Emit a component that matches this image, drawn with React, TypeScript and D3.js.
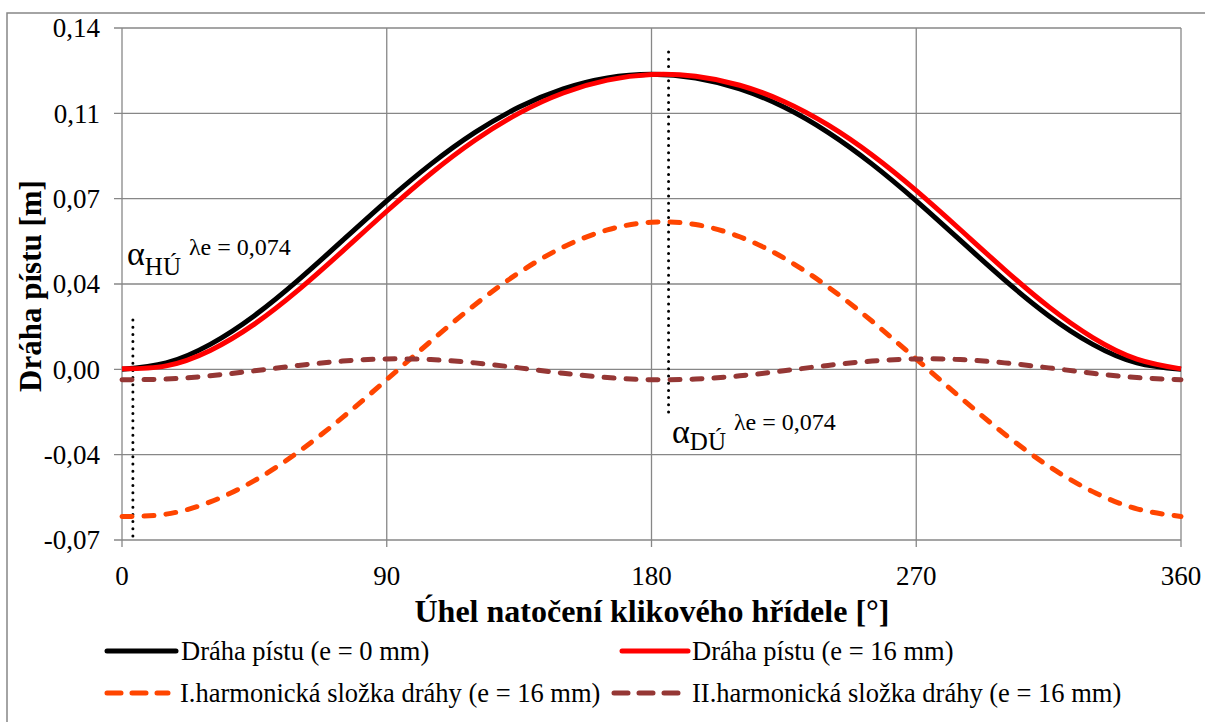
import React from "react";
import * as d3 from "d3";

// angles (deg) sampled every 15°
const angles = d3.range(0, 361, 15);

// Dráha pístu (e = 0 mm)
const pathE0 = [
  0.0, 0.00264, 0.01026, 0.02202, 0.0367, 0.05286, 0.0691, 0.08418, 0.0972,
  0.10758, 0.11504, 0.11952, 0.121, 0.11952, 0.11504, 0.10758, 0.0972, 0.08418,
  0.0691, 0.05286, 0.0367, 0.02202, 0.01026, 0.00264, 0.0,
];

// Dráha pístu (e = 16 mm)
const pathE16 = [
  0.0002, 0.00143, 0.00777, 0.01854, 0.03258, 0.04849, 0.06484, 0.08033,
  0.09397, 0.10509, 0.11335, 0.11861, 0.12089, 0.1202, 0.11653, 0.10986,
  0.10024, 0.08789, 0.07328, 0.05725, 0.04093, 0.02571, 0.01303, 0.00421, 0.0002,
];

// I. harmonická složka (e = 16 mm)
const harm1 = [
  -0.06035, -0.05939, -0.05438, -0.04566, -0.03383, -0.0197, -0.00422, 0.01154,
  0.02652, 0.03969, 0.05016, 0.0572, 0.06035, 0.05939, 0.05438, 0.04566,
  0.03383, 0.0197, 0.00422, -0.01154, -0.02652, -0.03969, -0.05016, -0.0572,
  -0.06035,
];

// II. harmonická složka (e = 16 mm)
const harm2 = [
  -0.00426, -0.00399, -0.00265, -0.0006, 0.00161, 0.00339, 0.00426, 0.00399,
  0.00265, 0.0006, -0.00161, -0.00339, -0.00426, -0.00399, -0.00265, -0.0006,
  0.00161, 0.00339, 0.00426, 0.00399, 0.00265, 0.0006, -0.00161, -0.00339,
  -0.00426,
];

const xTicks = [0, 90, 180, 270, 360];
const yTicks = [-0.07, -0.035, 0, 0.035, 0.07, 0.105, 0.14];
const yTickLabels = ["-0,07", "-0,04", "0,00", "0,04", "0,07", "0,11", "0,14"];

const seriesNames = [
  "Dráha pístu (e = 0 mm)",
  "Dráha pístu (e = 16 mm)",
  "I.harmonická složka dráhy (e = 16 mm)",
  "II.harmonická složka dráhy (e = 16 mm)",
];

// marked angles α_HÚ and α_DÚ
const markAngles = [3.7, 185.8];

const FONT = '"Liberation Serif", "Times New Roman", serif';
const GRID = "#878787";

export default function App() {
  const W = 1205;
  const H = 722;
  const x = d3.scaleLinear().domain([0, 360]).range([122, 1181]);
  const y = d3.scaleLinear().domain([-0.07, 0.14]).range([540, 28]);

  const line = d3
    .line<number>()
    .x((_, i) => x(angles[i]))
    .y((d) => y(d))
    .curve(d3.curveNatural);

  const series = [
    { data: pathE0, color: "#000000", dash: undefined },
    { data: pathE16, color: "#ff0000", dash: undefined },
    { data: harm1, color: "#ff4500", dash: "10 12" },
    { data: harm2, color: "#953735", dash: "10 12" },
  ];

  const legend = [
    { x1: 107, x2: 176, tx: 181, y: 651 },
    { x1: 622, x2: 688, tx: 692, y: 651 },
    { x1: 107, x2: 168, tx: 180, y: 693 },
    { x1: 614, x2: 682, tx: 692, y: 693 },
  ];

  const txt = { fontFamily: FONT };

  return (
    <svg
      width={W}
      height={H}
      style={{ position: "absolute", left: 0, top: 0, background: "#fff", fontFamily: FONT }}
    >
      {/* chart border */}
      <path d={`M7,${H} V13 H${W}`} fill="none" stroke={GRID} strokeWidth={1.5} />

      {/* grid */}
      {yTicks.map((t) => (
        <line key={"gy" + t} x1={114} x2={x(360)} y1={y(t)} y2={y(t)} stroke={GRID} strokeWidth={1.3} />
      ))}
      {xTicks.map((t) => (
        <line key={"gx" + t} x1={x(t)} x2={x(t)} y1={y(0.14)} y2={547} stroke={GRID} strokeWidth={1.3} />
      ))}

      {/* y tick labels */}
      {yTicks.map((t, i) => (
        <text key={"ly" + t} x={100} y={y(t)} dy="0.34em" textAnchor="end" fontSize={27} style={txt}>
          {yTickLabels[i]}
        </text>
      ))}
      {/* x tick labels */}
      {xTicks.map((t) => (
        <text key={"lx" + t} x={x(t)} y={585} textAnchor="middle" fontSize={27} style={txt}>
          {t}
        </text>
      ))}

      {/* axis titles */}
      <text x={652} y={622} textAnchor="middle" fontSize={32} fontWeight="bold" style={txt}>
        Úhel natočení klikového hřídele [°]
      </text>
      <text
        transform={`translate(41,286) rotate(-90)`}
        textAnchor="middle"
        fontSize={31}
        fontWeight="bold"
        style={txt}
      >
        Dráha pístu [m]
      </text>

      {/* dotted markers */}
      <line x1={x(markAngles[0])} x2={x(markAngles[0])} y1={320} y2={538} stroke="#000" strokeWidth={3} strokeDasharray="0 7.2" strokeLinecap="round" />
      <line x1={x(markAngles[1])} x2={x(markAngles[1])} y1={52} y2={412} stroke="#000" strokeWidth={3} strokeDasharray="0 7.2" strokeLinecap="round" />

      {/* series */}
      {series.map((s, i) => (
        <path
          key={"s" + i}
          d={line(s.data) || ""}
          fill="none"
          stroke={s.color}
          strokeWidth={5}
          strokeDasharray={s.dash}
          strokeLinecap={s.dash ? "round" : "butt"}
          strokeLinejoin="round"
        />
      ))}

      {/* annotations */}
      <text x={127} y={265} fontSize={34} style={txt}>
        α<tspan fontSize={25} dy={10}>HÚ</tspan>
        <tspan fontSize={24} dx={8} dy={-20}>λe = 0,074</tspan>
      </text>
      <text x={672} y={443} fontSize={34} style={txt}>
        α<tspan fontSize={25} dy={7}>DÚ</tspan>
        <tspan fontSize={24} dx={8} dy={-20}>λe = 0,074</tspan>
      </text>

      {/* legend */}
      {legend.map((l, i) => (
        <g key={"lg" + i}>
          <line
            x1={l.x1}
            x2={l.x2}
            y1={l.y}
            y2={l.y}
            stroke={series[i].color}
            strokeWidth={5}
            strokeDasharray={series[i].dash ? "14 11" : undefined}
            strokeLinecap="round"
          />
          <text x={l.tx} y={l.y} dy="0.34em" fontSize={26.5} style={txt}>
            {seriesNames[i]}
          </text>
        </g>
      ))}
    </svg>
  );
}
